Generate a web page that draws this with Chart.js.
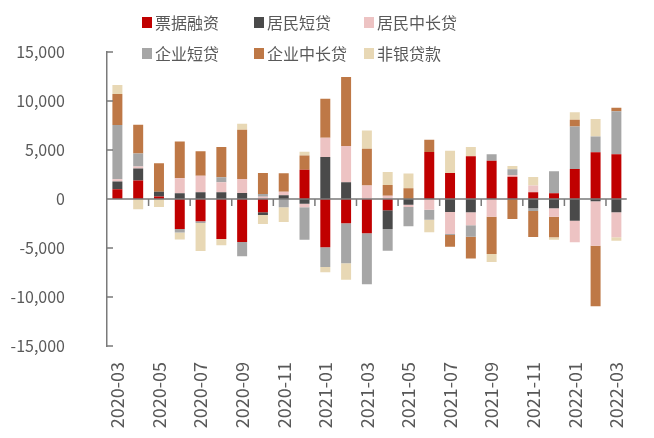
<!DOCTYPE html>
<html>
<head>
<meta charset="utf-8">
<script src="https://cdn.jsdelivr.net/npm/chart.js@4.4.0/dist/chart.umd.min.js"></script>
<style>
  body { margin: 0; background: #fff; }
  #wrap { position: relative; width: 654px; height: 438px; }
  #legend {
    position: absolute; left: 142px; top: 12px;
    display: grid; grid-template-columns: 112px 110px 110px; row-gap: 11px;
    font-family: "Noto Sans CJK SC", sans-serif; font-size: 16px; color: #595959;
  }
  #legend .item { display: flex; align-items: center; height: 20px; line-height: 20px; white-space: nowrap; }
  #legend .box { width: 10px; height: 11px; margin-right: 3px; }
</style>
</head>
<body>
<div id="wrap">
  <canvas id="loans" width="654" height="438"></canvas>
  <div id="legend"></div>
</div>
<script>
var months = ['2020-03', '2020-04', '2020-05', '2020-06', '2020-07', '2020-08', '2020-09', '2020-10', '2020-11', '2020-12',
              '2021-01', '2021-02', '2021-03', '2021-04', '2021-05', '2021-06', '2021-07', '2021-08', '2021-09', '2021-10',
              '2021-11', '2021-12', '2022-01', '2022-02', '2022-03'];

// 亿元
var billFinancing   = [1000, 1900, 250, -3050, -2280, -4080, -4390, -1360, 0, 2990, -4930, -2480, -3500, -1160, 0, 4790, 2650, 4350, 3910, 2280, 680, 580, 3060, 4760, 4560];
var householdShort  = [780, 1220, 480, 580, 680, 680, 610, -270, 370, -480, 4280, 1700, 0, -1900, -580, 0, -1330, -1360, 0, 0, -950, -950, -2210, -240, -1360];
var householdLong   = [240, 200, 0, 1530, 1700, 1020, 1430, 240, 370, -370, 1970, 3710, 1390, 340, -240, -1090, -2240, -1330, -1800, 170, 710, -850, -2210, -4520, -2550];
var corporateShort  = [5540, 1330, 0, -370, -170, 510, -1460, 270, -850, -3300, -2010, -4080, -5200, -2210, -1970, -1020, -100, -1160, 650, 580, -270, 2240, 4350, 1630, 4390];
var corporateLong   = [3160, 2920, 2920, 3770, 2480, 3090, 5030, 2140, 1900, 1460, 3980, 7040, 3740, 1090, 1090, 1260, -1190, -2210, -3810, -2040, -2650, -2110, 680, -6190, 370];
var nonBankLoans    = [920, -1050, -820, -710, -2860, -650, 610, -920, -1500, 370, -540, -1670, 1870, 1330, 1500, -1290, 2280, 950, -820, 340, 850, -240, 750, 1770, -340];

var seriesNames  = ['票据融资', '居民短贷', '居民中长贷', '企业短贷', '企业中长贷', '非银贷款'];
var seriesValues = [billFinancing, householdShort, householdLong, corporateShort, corporateLong, nonBankLoans];
var seriesColors = ['#C00000', '#4A4A4A', '#EDC3C3', '#A6A6A6', '#BE7846', '#E8D8B5'];

var yTicks = [-15000, -10000, -5000, 0, 5000, 10000, 15000];

var axisColor = '#7A7A7A';
var textColor = '#595959';
var fontFamily = '"Noto Sans CJK SC", sans-serif';

// zero line over the bars, inward y tick marks, x tick marks every two months
var axisMarks = {
    id: 'axisMarks',
    afterDatasetsDraw: function(chart) {
        var ctx = chart.ctx;
        var x = chart.scales.x;
        var y = chart.scales.y;
        var area = chart.chartArea;
        var zero = y.getPixelForValue(0);

        ctx.save();
        ctx.strokeStyle = axisColor;
        ctx.lineWidth = 1.5;
        ctx.beginPath();
        ctx.moveTo(area.left, zero);
        ctx.lineTo(area.right, zero);
        yTicks.forEach(function(v) {
            var py = y.getPixelForValue(v);
            ctx.moveTo(area.left, py);
            ctx.lineTo(area.left + 6, py);
        });
        for (var i = 2; i < months.length; i += 2) {
            var px = (x.getPixelForValue(i - 1) + x.getPixelForValue(i)) / 2;
            ctx.moveTo(px, zero);
            ctx.lineTo(px, zero + 7);
        }
        ctx.stroke();
        ctx.restore();
    }
};

var datasets = seriesNames.map(function(name, i) {
    return {
        label: name,
        data: seriesValues[i],
        backgroundColor: seriesColors[i],
        borderWidth: 0,
        stack: 'loans',
        barPercentage: 0.48,
        categoryPercentage: 1.0
    };
});

var legend = document.getElementById('legend');
seriesNames.forEach(function(name, i) {
    var item = document.createElement('div');
    item.className = 'item';
    var box = document.createElement('span');
    box.className = 'box';
    box.style.background = seriesColors[i];
    item.appendChild(box);
    item.appendChild(document.createTextNode(name));
    legend.appendChild(item);
});

var ctx = document.getElementById('loans').getContext('2d');
var chart = new Chart(ctx, {
    type: 'bar',
    data: { labels: months, datasets: datasets },
    options: {
        responsive: false,
        animation: false,
        devicePixelRatio: 1,
        layout: { padding: { top: 52, left: 10, right: 1, bottom: 0 } },
        plugins: {
            legend: { display: false },
            tooltip: { enabled: false }
        },
        scales: {
            x: {
                stacked: true,
                grid: { display: false, drawTicks: false },
                border: { display: false },
                ticks: {
                    autoSkip: false,
                    maxRotation: 90,
                    minRotation: 90,
                    padding: 16,
                    color: textColor,
                    font: { family: fontFamily, size: 18 },
                    callback: function(value, index) {
                        return index % 2 === 0 ? months[index] : '';
                    }
                },
                afterFit: function(scale) { scale.height = 92; }
            },
            y: {
                stacked: true,
                min: -15000,
                max: 15000,
                grid: { display: false, drawTicks: false },
                border: { display: true, color: axisColor, width: 1.5 },
                afterBuildTicks: function(scale) {
                    scale.ticks = yTicks.map(function(v) { return { value: v }; });
                },
                ticks: {
                    padding: 42,
                    color: textColor,
                    font: { family: fontFamily, size: 16 },
                    callback: function(value) { return value.toLocaleString('en-US'); }
                },
                afterFit: function(scale) { scale.width = 97; }
            }
        }
    },
    plugins: [axisMarks]
});
</script>
</body>
</html>
